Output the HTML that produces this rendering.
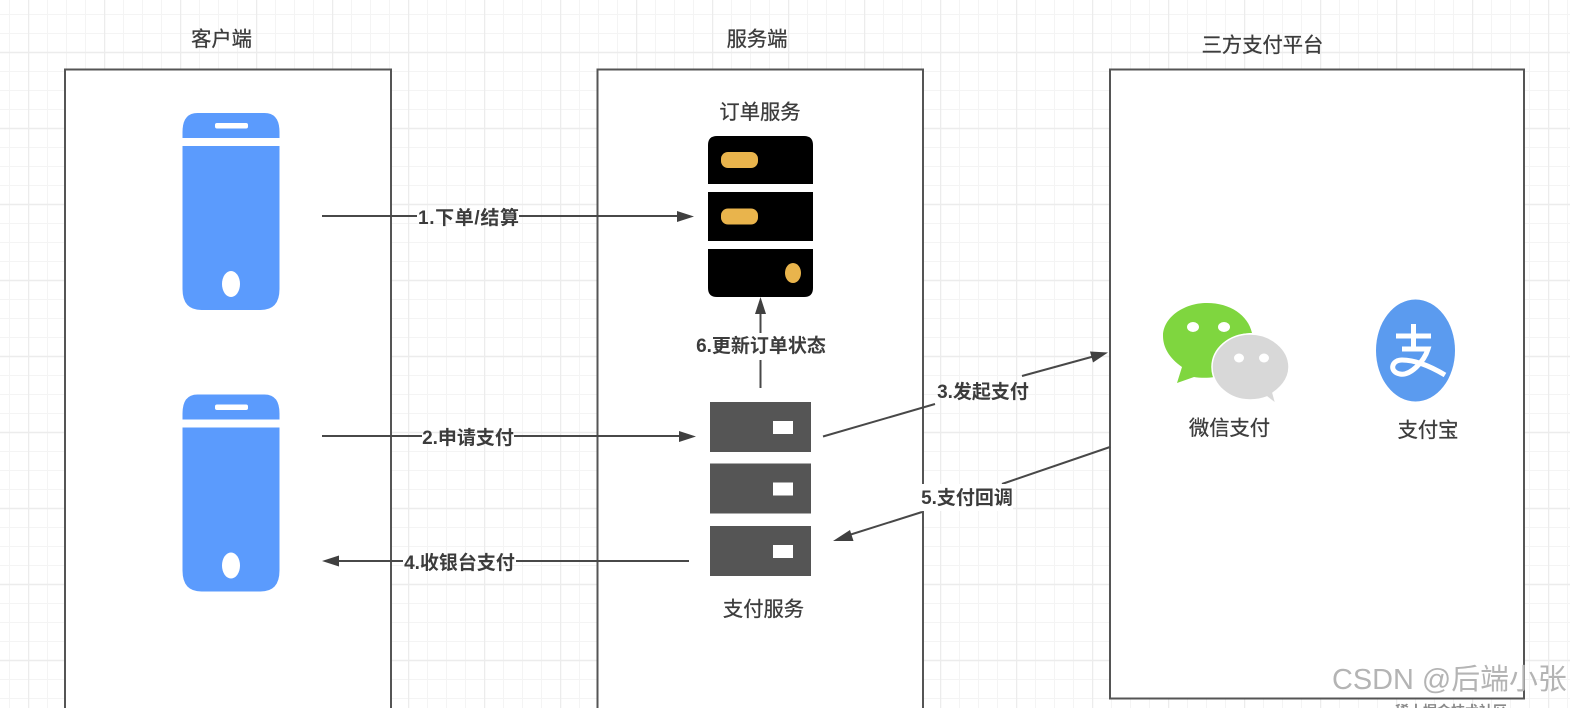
<!DOCTYPE html>
<html><head><meta charset="utf-8"><style>
html,body{margin:0;padding:0;background:#fff;width:1570px;height:708px;overflow:hidden}
svg{display:block;filter:blur(0.35px)}
text{font-family:"Liberation Sans","Noto Sans CJK SC",sans-serif;fill:#3c3c3c}
.t{font-size:20.300px;text-anchor:middle;stroke:#3c3c3c;stroke-width:.3}
.l{font-size:19px;font-weight:700;text-anchor:middle}
.b{fill:#fff;stroke:#555;stroke-width:2}
.c{stroke:#484848;stroke-width:2;fill:none}
.a{fill:#404040}
</style></head><body>
<svg width="1570" height="708" viewBox="0 0 1570 708" xmlns="http://www.w3.org/2000/svg">
<defs>
<pattern id="g" x="28" y="14" width="76" height="76" patternUnits="userSpaceOnUse">
<path d="M0.5 0V76M19.5 0V76M38.5 0V76M57.5 0V76M0 0.5H76M0 19.5H76M0 38.5H76M0 57.5H76" stroke="#f4f4f4" stroke-width="1" fill="none"/>
<path d="M0.5 0V76M0 38.5H76" stroke="#ececec" stroke-width="1.5" fill="none"/>
</pattern>
<g id="phone">
<path d="M0 25V19Q0 0 15 0H82Q97 0 97 19V25Z" fill="#5b9bfd"/>
<rect x="32.500" y="10" width="33" height="5.500" rx="2" fill="#fff"/>
<path d="M0 33H97V176Q97 197 78 197H19Q0 197 0 176Z" fill="#5b9bfd"/>
<ellipse cx="48.500" cy="171" rx="9" ry="13" fill="#fff"/>
</g>
<g id="srv">
<rect width="101" height="50" fill="#555"/>
<rect x="63" y="19" width="20" height="13" fill="#fff"/>
</g>
</defs>
<rect width="1570" height="708" fill="#fff"/>
<rect width="1570" height="708" fill="url(#g)"/>

<rect class="b" x="65" y="69.500" width="326" height="660"/>
<rect class="b" x="597.500" y="69.500" width="325.500" height="660"/>
<rect class="b" x="1110" y="69.500" width="414" height="629"/>

<text class="t" x="221.500" y="46">客户端</text>
<text class="t" x="757" y="46">服务端</text>
<text class="t" x="1262.500" y="52">三方支付平台</text>
<text class="t" x="760" y="119">订单服务</text>
<text class="t" x="763.500" y="616">支付服务</text>
<text class="t" x="1229.500" y="435">微信支付</text>
<text class="t" x="1428" y="437">支付宝</text>

<use href="#phone" x="182.500" y="113"/>
<use href="#phone" x="182.500" y="394.500"/>

<path d="M708 184V145Q708 136 717 136H804Q813 136 813 145V184Z" fill="#000"/>
<rect x="708" y="192" width="105" height="49" fill="#000"/>
<path d="M708 249H813V288Q813 297 804 297H717Q708 297 708 288Z" fill="#000"/>
<rect x="721" y="152" width="37" height="16" rx="7" fill="#e9b44c"/>
<rect x="721" y="208.500" width="37" height="16" rx="7" fill="#e9b44c"/>
<ellipse cx="793" cy="273" rx="8" ry="10" fill="#e9b44c"/>

<use href="#srv" x="710" y="402"/>
<use href="#srv" x="710" y="463.500"/>
<use href="#srv" x="710" y="526"/>

<!-- connectors -->
<path class="c" d="M322 216H417M519 216H680"/>
<path class="a" d="M694 216.500L677 211V222Z"/>
<path class="c" d="M322 436H422M514 436H682"/>
<path class="a" d="M696 436.500L679 431V442Z"/>
<path class="c" d="M337 561H403M516 561H689"/>
<path class="a" d="M322 561L339 555.500V566.500Z"/>
<path class="c" d="M760.500 388V360M760.500 333V310"/>
<path class="a" d="M760.500 297L755 314H766Z"/>
<path class="c" d="M823 436.500L935 404M1022 376L1095 356"/>
<path class="a" d="M1108 352.500L1090 351.500L1093 362.500Z"/>
<path class="c" d="M1110 447L1002 484M922 512L846 536"/>
<path class="a" d="M833 541L850 530L853.500 541Z"/>

<rect x="919" y="484" width="94" height="27" fill="#fff"/>

<text class="l" x="468.500" y="224" textLength="101" lengthAdjust="spacing">1.下单/结算</text>
<text class="l" x="468" y="444">2.申请支付</text>
<text class="l" x="459.500" y="569">4.收银台支付</text>
<text class="l" x="761" y="352">6.更新订单状态</text>
<text class="l" x="983" y="398">3.发起支付</text>
<text class="l" x="967" y="504">5.支付回调</text>

<!-- WeChat -->
<path d="M1177 383L1182 367C1169 358 1163 347 1163 336C1163 318 1183 303 1207 303C1230 303 1248 315 1252 333C1229 333 1212 350 1214 377C1209 378 1200 378 1194 377Z" fill="#7fd63f"/>
<ellipse cx="1193" cy="327" rx="6" ry="5" fill="#fff"/>
<ellipse cx="1224" cy="327" rx="6" ry="5" fill="#fff"/>
<path d="M1276 404L1273 393C1283 386 1289 377 1289 367C1289 349 1271 334 1250 334C1229 334 1212 349 1212 367C1212 385 1229 400 1250 400C1256 400 1262 399 1267 397Z" fill="#d8d8d8" stroke="#fff" stroke-width="1.500"/>
<ellipse cx="1239" cy="358" rx="5" ry="4.500" fill="#fff"/>
<ellipse cx="1264" cy="358" rx="5" ry="4.500" fill="#fff"/>

<!-- Alipay -->
<ellipse cx="1415.500" cy="350.500" rx="39.500" ry="51" fill="#5b9bef"/>
<path d="M1396 336H1431M1413.500 324V349M1402 349H1428C1424 362 1410 376 1400 374C1389 372 1391 360 1402 360C1415 360 1430 366 1445 375" fill="none" stroke="#fff" stroke-width="5"/>

<!-- watermark -->
<text x="1332" y="689" style="font-size:28.900px;fill:#b4b4b4">CSDN @后端小张</text>
<text x="1395" y="716" style="font-size:14px;font-weight:700;fill:#8a8a8a">稀土掘金技术社区</text>
</svg>
</body></html>
